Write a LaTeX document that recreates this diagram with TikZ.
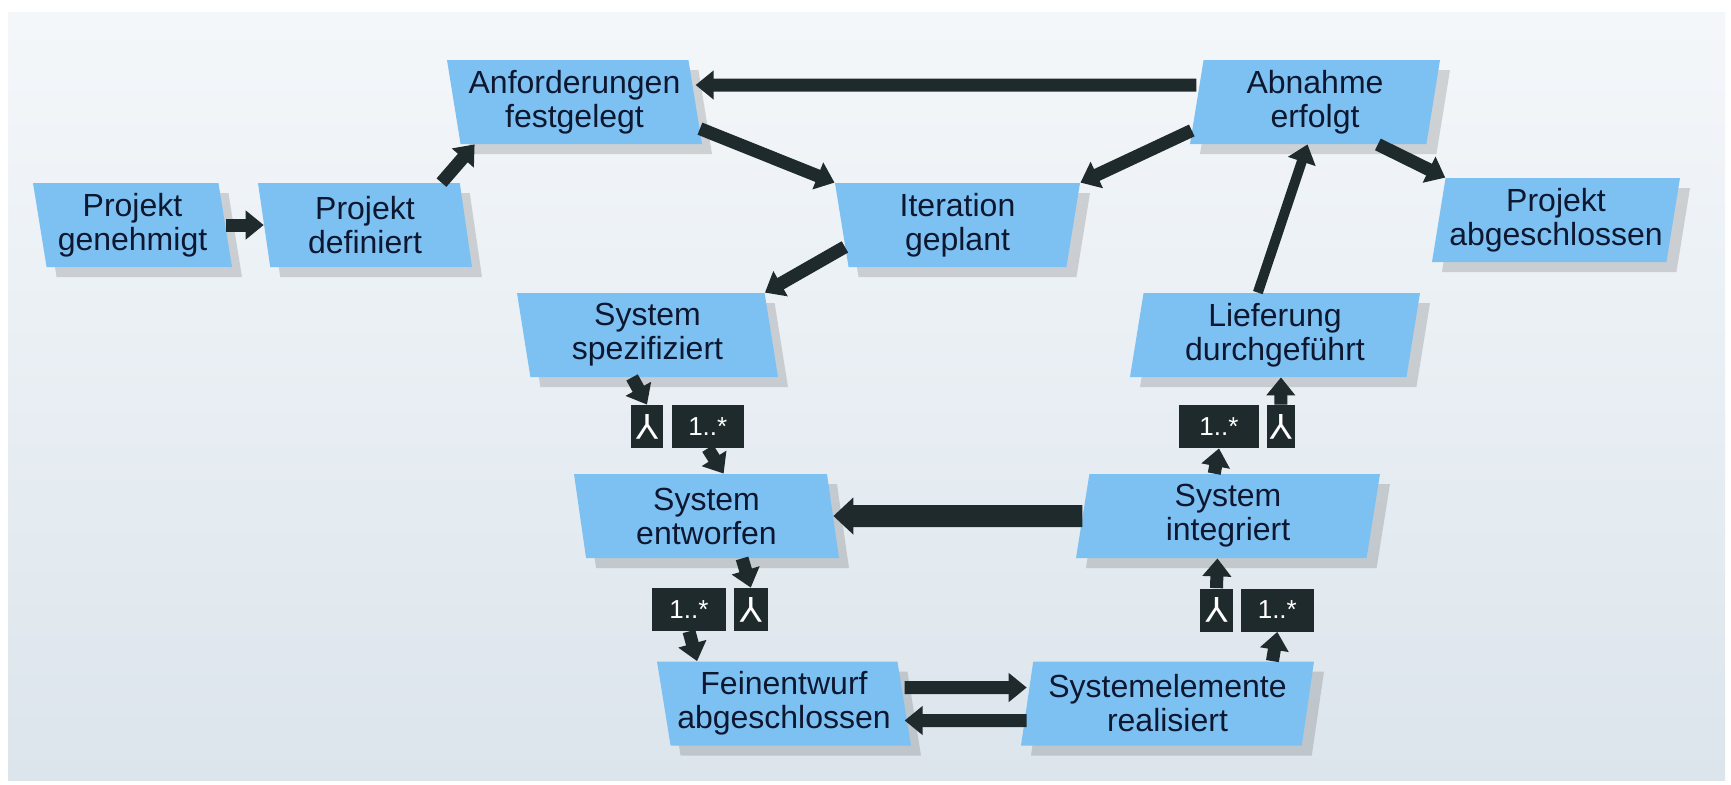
\documentclass[tikz,border=0pt]{standalone}
\usepackage{fontspec}
\setmainfont{Liberation Sans}
\usetikzlibrary{positioning, shapes.geometric, shadows, arrows.meta}
\definecolor{boxblue}{HTML}{7DC1F2}
\definecolor{inkdark}{HTML}{1E2A2B}
\definecolor{labelnavy}{HTML}{0E1730}
\definecolor{bgtop}{HTML}{F4F7FA}
\definecolor{bgbottom}{HTML}{DCE5EC}
\newcommand{\forkmark}{\rotatebox[origin=c]{180}{\fontsize{18}{18}\selectfont Y}}

\begin{document}
\begin{tikzpicture}[
    x=0.5pt, y=-0.5pt,
    milestone/.style={
        trapezium,
        trapezium stretches body,
        fill=boxblue,
        text=labelnavy,
        minimum height=42pt,
        inner sep=0pt,
        align=center,
        font=\fontsize{16}{17}\selectfont,
        drop shadow={shadow xshift=5pt, shadow yshift=-5pt, opacity=0.18, fill=black!80}
    },
    slantL/.style={milestone, trapezium left angle=102, trapezium right angle=78},
    slantR/.style={milestone, trapezium left angle=78, trapezium right angle=102},
    tag/.style={
        fill=inkdark,
        text=white,
        minimum height=21.5pt,
        inner sep=1pt,
        font=\fontsize{13}{13}\selectfont
    }
]

% --- BACKGROUND ---
\useasboundingbox (0,0) rectangle (1731,784);
\fill[white] (0,0) rectangle (1731,784);
\shade[top color=bgtop, bottom color=bgbottom] (8,12) rectangle (1725,780);

% --- TOP ROWS ---
\node[slantL, minimum width=99.5pt] (gen) at (132.5,225) {Projekt\\genehmigt};
\node[slantL, minimum width=107pt] (def) at (365,225) {Projekt\\definiert};
\node[slantL, minimum width=127.5pt] (anf) at (574.5,102) {Anforderungen\\festgelegt};
\node[slantR, minimum width=125pt] (abn) at (1315,102) {Abnahme\\erfolgt};
\node[milestone, trapezium left angle=102, trapezium right angle=102,
      minimum width=122.5pt] (iter) at (957.5,225) {Iteration\\geplant};
\node[slantR, minimum width=124pt] (absch) at (1556,220) {Projekt\\abgeschlossen};

% --- LEFT BRANCH ---
\node[slantL, minimum width=130.5pt] (spez) at (647.5,335) {System\\spezifiziert};
\node[slantL, minimum width=132.5pt] (ent) at (706.5,516) {System\\entworfen};
\node[slantL, minimum width=127pt] (fein) at (784,703.5) {Feinentwurf\\abgeschlossen};

% --- RIGHT BRANCH ---
\node[slantR, minimum width=145pt] (lief) at (1275,335) {Lieferung\\durchgeführt};
\node[slantR, minimum width=152pt] (integ) at (1228,516) {System\\integriert};
\node[slantR, minimum width=146.5pt] (sysel) at (1167.5,703.5) {Systemelemente\\realisiert};

% --- TAGS ---
\node[tag, minimum width=16pt] (andA) at (647,426.5) {\forkmark};
\node[tag, minimum width=36pt, right=4pt of andA] (multA) {1..*};
\node[tag, minimum width=40pt] (multB) at (1219,426.5) {1..*};
\node[tag, minimum width=14pt, right=3.5pt of multB] (andB) {\forkmark};
\node[tag, minimum width=37pt] (multC) at (689,609.5) {1..*};
\node[tag, minimum width=17pt, right=3.5pt of multC] (andC) {\forkmark};
\node[tag, minimum width=16.5pt] (andD) at (1216.5,610) {\forkmark};
\node[tag, minimum width=36.5pt, right=3.5pt of andD] (multD) {1..*};

% --- ARROWS ---
\begin{scope}[inkdark, line width=6.5pt, >={Triangle[length=9pt, width=14pt]}]
    \draw[->] (gen) -- (def);
    \draw[->] (def.29) -- (anf.203);
    \draw[->] ([yshift=8.5pt]abn.west) -- ([yshift=8.5pt]anf.east);
    \draw[->] (anf.348) -- (iter.top left corner);
    \draw[->] (abn.193) -- (iter.top right corner);
    \draw[->] (abn.326) -- (absch.top left corner);
    \draw[->] (iter.191) -- (spez.top right corner);
    \draw[->] (spez.250) -- (andA.north);
    \draw[->] (multA.south) -- (ent.68);
    \draw[->] (ent.310) -- (andC.north);
    \draw[->] (multC.south) -- (fein.154);
    \draw[->] ([yshift=8pt]fein.east) -- ([yshift=8pt]sysel.west);
    \draw[->] ([yshift=-8.5pt]sysel.west) -- ([yshift=-8.5pt]fein.east);
    \draw[->] (sysel.22) -- (multD.south);
    \draw[->] (andD.north) -- (integ.256);
    \draw[->, line width=11pt, >={Triangle[length=10pt, width=18pt]}] (integ) -- (ent);
    \draw[->] (integ.108) -- (multB.south);
    \draw[->] (andB.north) -- (lief.278);
    \draw[->, line width=5pt] (lief.112) -- (abn.260);
\end{scope}

\end{tikzpicture}
\end{document}
